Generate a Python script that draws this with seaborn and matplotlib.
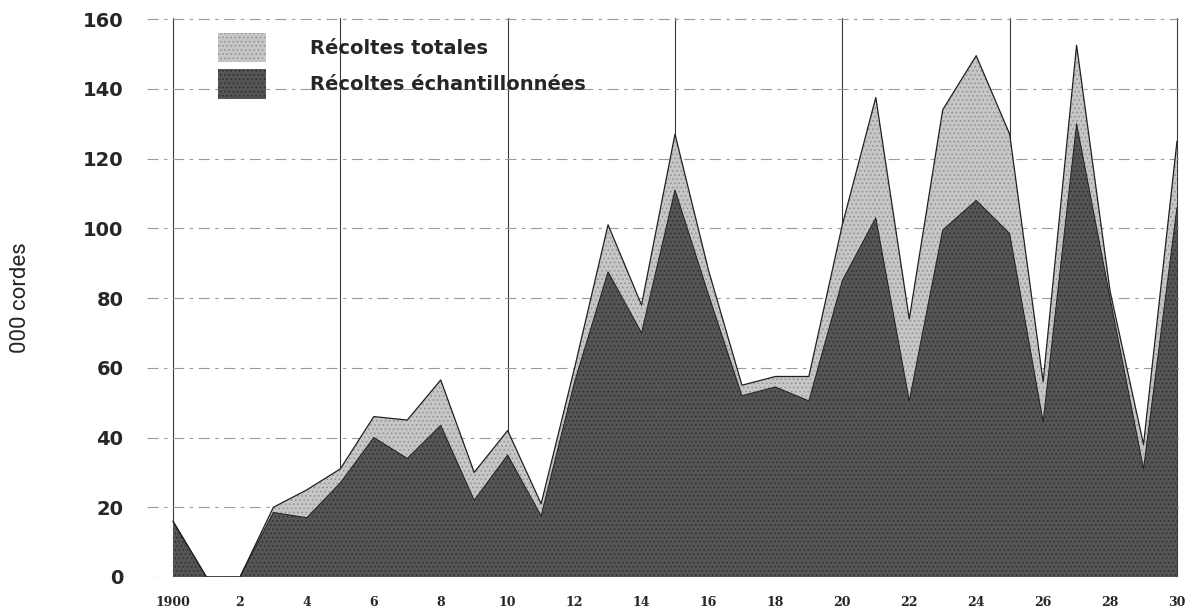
import matplotlib
matplotlib.use("Agg")
import matplotlib.pyplot as plt
from matplotlib.patches import Patch
from matplotlib.ticker import FixedLocator, MultipleLocator
import seaborn as sns
import pandas as pd

years = list(range(1900, 1931))
total = [16, 0, 0, 20, 25, 31, 46, 45, 56.5, 30, 42, 21, 60, 101, 78, 127, 88, 55,
         57.5, 57.5, 101, 137.5, 74, 134, 149.5, 127, 56, 152.5, 82, 38, 125]
sampled = [16, 0, 0, 18.5, 17, 27, 40, 34, 43.5, 22, 35, 17.5, 56, 87.5, 70, 111, 81, 52,
           54.5, 50.5, 85, 103, 50.5, 99.5, 108, 98.5, 44.5, 130, 80, 31, 106]
series_names = ["Récoltes totales", "Récoltes échantillonnées"]
y_ticks = [0, 20, 40, 60, 80, 100, 120, 140, 160]
x_labels = ["1900" if y == 1900 else (str(y - 1900) if y % 2 == 0 else "") for y in years]
y_label = "000 cordes"

df = pd.DataFrame({"year": years, "total": total, "sampled": sampled})

sns.set_style("white")
plt.rcParams["font.family"] = ["DejaVu Sans"]
plt.rcParams["hatch.linewidth"] = 0.6

fig = plt.figure(figsize=(11.9, 6.09), dpi=100)
ax_left, ax_right = 147, 1179
ax = fig.add_axes([ax_left / 1190, 1 - 577 / 609, (ax_right - ax_left) / 1190, (577 - 18) / 609])

light_face, light_hatch = "#c6c6c6", "#8e8e8e"
dark_face, dark_hatch = "#555555", "#2e2e2e"

ax.fill_between(df["year"], 0, df["total"], facecolor=light_face, edgecolor=light_hatch,
                hatch="....", linewidth=0, zorder=2)
ax.fill_between(df["year"], 0, df["sampled"], facecolor=dark_face, edgecolor=dark_hatch,
                hatch="....", linewidth=0, zorder=3)
sns.lineplot(data=df, x="year", y="total", ax=ax, color="#202020", linewidth=0.9, zorder=4)
sns.lineplot(data=df, x="year", y="sampled", ax=ax, color="#202020", linewidth=0.7, zorder=5)

px_per_year = (1177 - 173) / 30
ax.set_xlim(1900 - (173 - ax_left) / px_per_year, 1930 + (ax_right - 1177) / px_per_year)
ax.set_ylim(0, 160.3)

# x: tick marks every year, labels on even years; vertical grid every 5 years
ax.xaxis.set_major_locator(FixedLocator(years))
ax.set_xticklabels(x_labels)
ax.xaxis.set_minor_locator(MultipleLocator(5))
ax.xaxis.remove_overlapping_locs = False
ax.tick_params(axis="x", which="major", direction="out", length=5, width=0.8,
               color="#333333", pad=9, labelsize=9)
ax.tick_params(axis="x", which="minor", length=0)
for lab in ax.get_xticklabels():
    lab.set_fontweight("bold")
    lab.set_family(["DejaVu Serif", "DejaVu Sans"])

ax.set_yticks(y_ticks)
ax.set_yticklabels([str(v) for v in y_ticks])
ax.tick_params(axis="y", length=0, pad=17, labelsize=14)
for lab in ax.get_yticklabels():
    lab.set_fontweight("bold")

ax.grid(False)
ax.grid(which="minor", axis="x", color="#3a3a3a", linewidth=0.8, linestyle="-")
ax.grid(which="major", axis="y", color="#9a9a9a", linewidth=0.8, linestyle=(0, (10, 5, 3, 5)))
ax.set_axisbelow(True)

for s in ax.spines.values():
    s.set_visible(False)

ax.set_xlabel("")
ax.set_ylabel(y_label, fontsize=16, family=["Liberation Sans Narrow", "Roboto", "DejaVu Sans"],
              fontstretch="condensed")
ax.yaxis.set_label_coords(-(ax_left - 31) / (ax_right - ax_left), 0.5)

handles = [Patch(facecolor=light_face, edgecolor=light_hatch, hatch="....", linewidth=0),
           Patch(facecolor=dark_face, edgecolor=dark_hatch, hatch="....", linewidth=0)]
leg = ax.legend(handles, series_names, loc="upper left",
                bbox_to_anchor=((218 - ax_left) / (ax_right - ax_left), 1 - (33 - 18) / 559),
                frameon=False, prop={"weight": "bold", "size": 14},
                handlelength=2.45, handleheight=1.95, handletextpad=2.3,
                labelspacing=0.35, borderaxespad=0, borderpad=0)

fig.savefig("out.png", dpi=100)
